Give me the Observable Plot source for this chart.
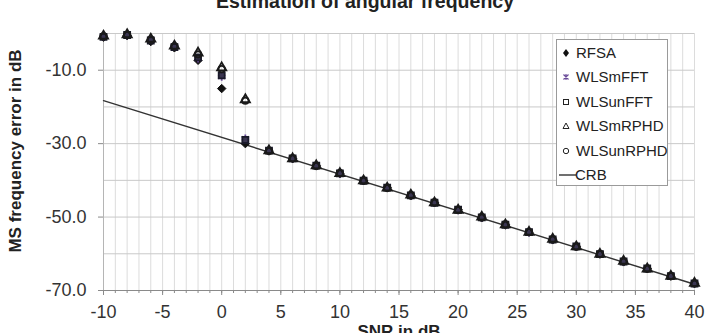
<!DOCTYPE html>
<html>
<head>
<meta charset="utf-8">
<script src="https://cdn.jsdelivr.net/npm/d3@7"></script>
<script src="https://cdn.jsdelivr.net/npm/@observablehq/plot@0.6"></script>
<style>
  html, body { margin: 0; padding: 0; background: #fff; }
  #wrap { position: relative; width: 707px; height: 333px; overflow: hidden; font-family: "Liberation Sans", Arial, sans-serif; }
  #title { position: absolute; left: 0; width: 730px; top: -9px; text-align: center; font-weight: bold; font-size: 19.5px; line-height: 20px; color: #222; }
  #legend { position: absolute; left: 556px; top: 39px; width: 112px; height: 147px; border: 1px solid #9a9a9a; background: #fff; box-sizing: border-box; font-size: 15px; color: #222; }
  .item { position: absolute; left: 0; height: 20px; line-height: 20px; white-space: nowrap; }
  .item svg { position: absolute; left: 2px; top: 0; }
  .item span { position: absolute; left: 19px; top: 0; }
</style>
</head>
<body>
<div id="wrap">
  <div id="chart"></div>
  <div id="title">Estimation of angular frequency</div>
  <div id="legend"></div>
</div>
<script>
// ---- data ----
const snr = [-10, -8, -6, -4, -2, 0, 2, 4, 6, 8, 10, 12, 14, 16, 18, 20, 22, 24, 26, 28, 30, 32, 34, 36, 38, 40];

const rfsa      = [-1.0, -0.6, -2.2, -3.9, -7.3, -15.0, -30.0, -32.0, -34.1, -36.0, -38.2, -40.1, -42.0, -44.2, -46.1, -48.0, -50.2, -52.1, -54.1, -56.2, -58.0, -60.1, -62.2, -64.0, -66.1, -68.1];
const wlsmFFT   = [-0.8, -0.5, -1.6, -3.6, -6.8, -11.8, -28.6, -31.8, -34.0, -36.1, -38.1, -40.0, -42.1, -44.1, -46.0, -48.1, -50.1, -52.0, -54.2, -56.1, -58.1, -60.0, -62.1, -64.1, -66.0, -68.0];
const wlsunFFT  = [-0.9, -0.4, -1.9, -3.7, -6.5, -11.4, -29.0, -31.9, -34.0, -36.0, -38.1, -40.1, -42.0, -44.1, -46.1, -48.0, -50.1, -52.1, -54.1, -56.1, -58.0, -60.1, -62.1, -64.0, -66.1, -68.1];
const wlsmRPHD  = [-0.7, -0.3, -1.5, -3.4, -5.3, -9.3, -18.0, -31.9, -34.1, -36.0, -38.1, -40.1, -42.1, -44.0, -46.1, -48.1, -50.0, -52.1, -54.1, -56.0, -58.1, -60.1, -62.0, -64.1, -66.1, -68.0];
const wlsunRPHD = [-0.8, -0.4, -1.7, -3.5, -5.7, -9.7, -18.3, -32.0, -34.0, -36.1, -38.0, -40.1, -42.1, -44.1, -46.0, -48.1, -50.1, -52.0, -54.1, -56.1, -58.1, -60.0, -62.1, -64.1, -66.0, -68.1];

const crbSNR = [-10, 40];
const crbVal = [-18.3, -68.3];

const seriesNames = ["RFSA", "WLSmFFT", "WLSunFFT", "WLSmRPHD", "WLSunRPHD"];
const seriesValues = [rfsa, wlsmFFT, wlsunFFT, wlsmRPHD, wlsunRPHD];

const xTickLabels = [-10, -5, 0, 5, 10, 15, 20, 25, 30, 35, 40];
const xMinorTicks = d3.range(-10, 41, 1);
const yTickLabels = [-10, -30, -50, -70];
const yGridTicks = [-70, -60, -50, -40, -30, -20, -10, 0];

// ---- styles ----
const styleOf = {
  RFSA:      {symbol: "diamond2", fill: "#111", stroke: "#111", r: 3.8, sw: 1},
  WLSmFFT:   {symbol: "asterisk", fill: "none", stroke: "#6b4c9a", r: 3.8, sw: 1.8},
  WLSunFFT:  {symbol: "square",   fill: "#3a3550", stroke: "#1a1a2a", r: 3.4, sw: 1.8},
  WLSmRPHD:  {symbol: "triangle", fill: "none", stroke: "#1a1a1a", r: 3.4, sw: 1.8},
  WLSunRPHD: {symbol: "circle",   fill: "none", stroke: "#1a1a1a", r: 3.2, sw: 1.8}
};

const rows = seriesNames.map((name, i) => snr.map((x, j) => ({name, x, y: seriesValues[i][j]})));
const crb = crbSNR.map((x, i) => ({x, y: crbVal[i]}));

const font = '"Liberation Sans", Arial, sans-serif';

const dotMarks = seriesNames.map((name, i) => {
  const s = styleOf[name];
  return Plot.dot(rows[i], {x: "x", y: "y", symbol: () => s.symbol, r: s.r, fill: s.fill, stroke: s.stroke, strokeWidth: s.sw});
});

const chart = Plot.plot({
  width: 707,
  height: 333,
  marginLeft: 103,
  marginRight: 13,
  marginTop: 33,
  marginBottom: 43,
  style: {fontFamily: font, fontSize: "18px", color: "#333", background: "#fff", overflow: "visible"},
  x: {domain: [-10, 40]},
  y: {domain: [-70, 0]},
  symbol: {type: "identity"},
  marks: [
    Plot.gridX({ticks: xMinorTicks, stroke: "#dcdcdc", strokeOpacity: 1, strokeWidth: 1}),
    Plot.gridY({ticks: yGridTicks, stroke: "#c9c9c9", strokeOpacity: 1, strokeWidth: 1}),
    Plot.ruleY([-70], {stroke: "#8a8a8a"}),
    Plot.ruleX([-10], {stroke: "#b5b5b5"}),
    Plot.axisX({ticks: xMinorTicks, tickSize: 3, tickFormat: () => "", stroke: "#8a8a8a", label: null}),
    Plot.axisX({ticks: xTickLabels, tickSize: 5, tickPadding: 10, tickFormat: d => String(d), stroke: "#8a8a8a", fill: "#333", fontSize: 18, label: null}),
    Plot.axisY({ticks: yTickLabels, tickSize: 5, tickPadding: 12, tickFormat: d => d.toFixed(1), stroke: "#8a8a8a", fill: "#333", fontSize: 18, label: null}),
    Plot.line(crb, {x: "x", y: "y", stroke: "#333", strokeWidth: 1.4}),
    ...dotMarks,
    Plot.text(["MS frequency error in dB"], {frameAnchor: "left", textAnchor: "middle", rotate: -90, dx: -88, dy: -11, fontWeight: "bold", fontSize: 17, fill: "#222"}),
    Plot.text(["SNR in dB"], {frameAnchor: "bottom", textAnchor: "middle", dy: 46, fontWeight: "bold", fontSize: 17, fill: "#222"})
  ]
});
document.getElementById("chart").appendChild(chart);

// ---- legend ----
const legend = document.getElementById("legend");
const legendSymbols = {
  RFSA: '<path d="M7 6 L10 10 L7 14 L4 10 Z" fill="#111"/>',
  WLSmFFT: '<path d="M4.5 7.5 L9.5 12.5 M9.5 7.5 L4.5 12.5 M7 7 L7 13" stroke="#6b4c9a" stroke-width="1.2"/>',
  WLSunFFT: '<rect x="4.5" y="7.5" width="5" height="5" fill="none" stroke="#222" stroke-width="1"/>',
  WLSmRPHD: '<path d="M7 7 L10 12.5 L4 12.5 Z" fill="none" stroke="#222" stroke-width="1"/>',
  WLSunRPHD: '<circle cx="7" cy="10" r="2.7" fill="none" stroke="#222" stroke-width="1"/>',
  CRB: '<line x1="0" y1="10" x2="17" y2="10" stroke="#222" stroke-width="1.3"/>'
};
const legendNames = [...seriesNames, "CRB"];
legendNames.forEach((name, i) => {
  const div = document.createElement("div");
  div.className = "item";
  div.style.top = (3 + i * 24.4) + "px";
  div.innerHTML = '<svg width="18" height="20">' + legendSymbols[name] + '</svg><span' + (name === "CRB" ? ' style="left:18px"' : '') + '>' + name + '</span>';
  legend.appendChild(div);
});
</script>
</body>
</html>
